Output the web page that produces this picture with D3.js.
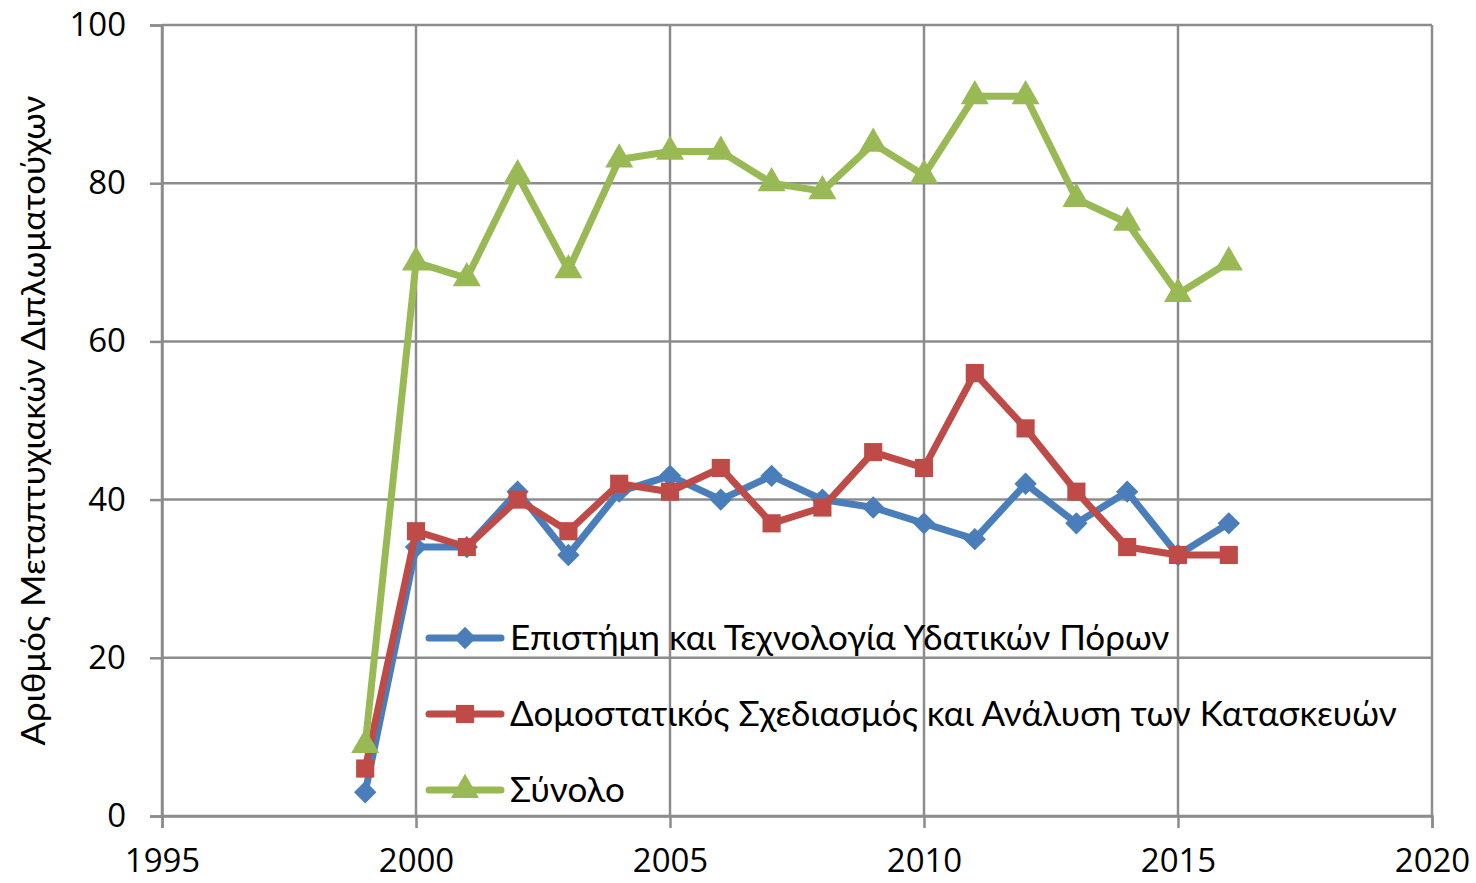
<!DOCTYPE html>
<html>
<head>
<meta charset="utf-8">
<script src="https://d3js.org/d3.v7.min.js"></script>
<style>
  body { margin: 0; background: #fff; font-family: Lato, "Open Sans", sans-serif; }
</style>
</head>
<body>
<svg id="chart" width="1476" height="883"></svg>
<script>
var years = [1999, 2000, 2001, 2002, 2003, 2004, 2005, 2006, 2007, 2008, 2009, 2010, 2011, 2012, 2013, 2014, 2015, 2016];
var water = [3, 34, 34, 41, 33, 41, 43, 40, 43, 40, 39, 37, 35, 42, 37, 41, 33, 37];
var structural = [6, 36, 34, 40, 36, 42, 41, 44, 37, 39, 46, 44, 56, 49, 41, 34, 33, 33];
var total = [9, 70, 68, 81, 69, 83, 84, 84, 80, 79, 85, 81, 91, 91, 78, 75, 66, 70];
var xTicks = [1995, 2000, 2005, 2010, 2015, 2020];
var yTicks = [0, 20, 40, 60, 80, 100];
var seriesNames = ["Επιστήμη και Τεχνολογία Υδατικών Πόρων",
                   "Δομοστατικός Σχεδιασμός και Ανάλυση των Κατασκευών",
                   "Σύνολο"];
var yTitle = "Αριθμός Μεταπτυχιακών Διπλωματούχων";

var margin = {left: 162, right: 44, top: 25, bottom: 67};
var width = 1476, height = 883;
var svg = d3.select("#chart");

var x = d3.scaleLinear().domain([1995, 2020]).range([margin.left, width - margin.right]);
var y = d3.scaleLinear().domain([0, 100]).range([height - margin.bottom, margin.top]);

var grid = "#8c8c8c";

// gridlines
svg.append("g").selectAll("line.h").data(yTicks).enter().append("line")
  .attr("x1", x(1995)).attr("x2", x(2020))
  .attr("y1", function(d) { return y(d); }).attr("y2", function(d) { return y(d); })
  .attr("stroke", grid).attr("stroke-width", 2.5);
svg.append("g").selectAll("line.v").data(xTicks).enter().append("line")
  .attr("x1", function(d) { return x(d); }).attr("x2", function(d) { return x(d); })
  .attr("y1", y(0)).attr("y2", y(100))
  .attr("stroke", grid).attr("stroke-width", 2.5);

// axes
var yAxis = svg.append("g").attr("transform", "translate(" + x(1995) + ",0)")
  .call(d3.axisLeft(y).tickValues(yTicks).tickSize(12).tickPadding(24));
var xAxis = svg.append("g").attr("transform", "translate(0," + y(0) + ")")
  .call(d3.axisBottom(x).tickValues(xTicks).tickSize(12).tickPadding(21).tickFormat(d3.format("d")));
[yAxis, xAxis].forEach(function(a) {
  a.select(".domain").attr("stroke", grid).attr("stroke-width", 2.5);
  a.selectAll(".tick line").attr("stroke", grid).attr("stroke-width", 2.5);
  a.selectAll("text").attr("font-family", "'Open Sans', sans-serif").attr("font-size", 33).attr("fill", "#000");
});

svg.append("text")
  .attr("transform", "translate(45," + y(50) + ") rotate(-90)")
  .attr("text-anchor", "middle")
  .attr("font-size", 33)
  .attr("textLength", 650).attr("lengthAdjust", "spacingAndGlyphs")
  .text(yTitle);

// Excel-style markers: diamond is a square turned 45 degrees
var series = [
  {name: seriesNames[0], values: water, color: "#4a7ebb", shape: d3.symbolSquare, size: 250, rot: 45},
  {name: seriesNames[1], values: structural, color: "#be4b48", shape: d3.symbolSquare, size: 330, rot: 0},
  {name: seriesNames[2], values: total, color: "#98b954", shape: d3.symbolTriangle, size: 340, rot: 0}
];

var line = d3.line().x(function(d) { return x(d[0]); }).y(function(d) { return y(d[1]); });

series.forEach(function(s) {
  var pts = years.map(function(yr, i) { return [yr, s.values[i]]; });
  svg.append("path").datum(pts).attr("d", line)
    .attr("fill", "none").attr("stroke", s.color).attr("stroke-width", 7)
    .attr("stroke-linejoin", "round");
  svg.append("g").selectAll("path").data(pts).enter().append("path")
    .attr("d", d3.symbol().type(s.shape).size(s.size))
    .attr("transform", function(d) { return "translate(" + x(d[0]) + "," + y(d[1]) + ") rotate(" + s.rot + ")"; })
    .attr("fill", s.color);
});

// legend
var legend = svg.append("g").attr("transform", "translate(425,638)");
series.forEach(function(s, i) {
  var g = legend.append("g").attr("transform", "translate(0," + (i * 76) + ")");
  g.append("line").attr("x1", 4).attr("x2", 76).attr("y1", 0).attr("y2", 0)
    .attr("stroke", s.color).attr("stroke-width", 7).attr("stroke-linecap", "round");
  g.append("path").attr("d", d3.symbol().type(s.shape).size(s.size))
    .attr("transform", "translate(40,0) rotate(" + s.rot + ")")
    .attr("fill", s.color);
  g.append("text").attr("x", 85).attr("y", 12).attr("font-size", 35).attr("fill", "#000").text(s.name);
});
</script>
</body>
</html>
